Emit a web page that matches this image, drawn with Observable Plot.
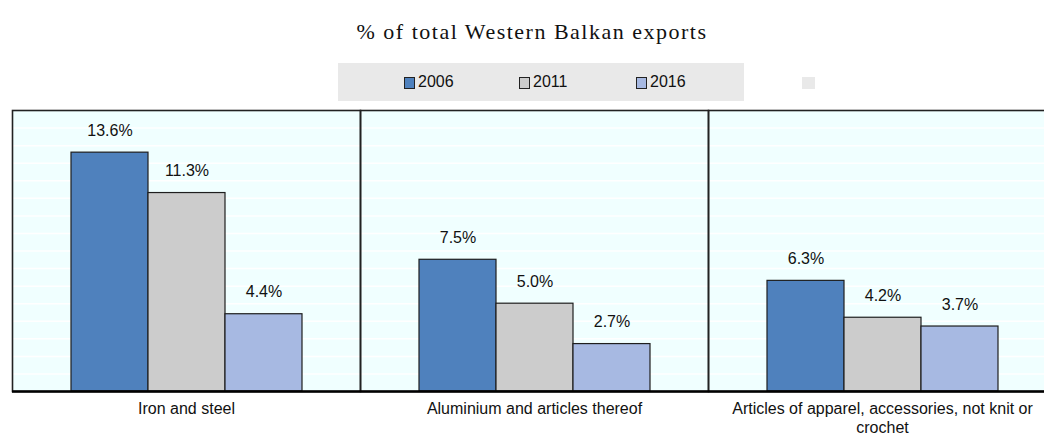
<!DOCTYPE html>
<html>
<head>
<meta charset="utf-8">
<script src="https://cdn.jsdelivr.net/npm/d3@7"></script>
<script src="https://cdn.jsdelivr.net/npm/@observablehq/plot@0.6"></script>
<style>
  html, body { margin: 0; padding: 0; background: white; overflow: hidden; }
  #wrap { position: relative; width: 1044px; height: 437px; font-family: "Liberation Sans", Arial, sans-serif; }
  #title { position: absolute; left: 0; top: 21px; width: 1064px; text-align: center;
           font-family: "Liberation Serif", "Times New Roman", serif; font-size: 22px; line-height: 22px;
           letter-spacing: 1.5px; color: #111; }
  #legend { position: absolute; left: 338px; top: 63px; width: 406px; height: 38px; background: #e9e9e9; }
  .sw { position: absolute; width: 9px; height: 10px; border: 1px solid #222; top: 14px; }
  .lt { position: absolute; top: 9px; font-size: 16px; line-height: 20px; color: #111; }
  #blank { position: absolute; left: 802px; top: 77px; width: 13px; height: 12px; background: #e9e9e9; }
  #chart { position: absolute; left: 0; top: 100px; }
</style>
</head>
<body>
<div id="wrap">
  <div id="title">% of total Western Balkan exports</div>
  <div id="legend"></div>
  <div id="blank"></div>
  <div id="chart"></div>
</div>
<script>
const categories = ["Iron and steel", "Aluminium and articles thereof", "Articles of apparel, accessories, not knit or crochet"];
const years = ["2006", "2011", "2016"];
const share2006 = [13.6, 7.5, 6.3];
const share2011 = [11.3, 5.0, 4.2];
const share2016 = [4.4, 2.7, 3.7];
const yearColors = ["#4f81bd", "#cccccc", "#a7b9e2"];
const gridLines = [1, 2, 3, 4, 5, 6, 7, 8, 9, 10, 11, 12, 13, 14, 15];

const series = [share2006, share2011, share2016];
const data = [];
categories.forEach((c, i) => {
  years.forEach((y, j) => data.push({category: c, year: y, value: series[j][i]}));
});

// Legend
const legend = document.getElementById("legend");
const swatchX = [66, 181, 298];
years.forEach((y, j) => {
  const sw = document.createElement("div");
  sw.className = "sw";
  sw.style.left = swatchX[j] + "px";
  sw.style.background = yearColors[j];
  legend.appendChild(sw);
  const t = document.createElement("div");
  t.className = "lt";
  t.style.left = (swatchX[j] + 14) + "px";
  t.textContent = y;
  legend.appendChild(t);
});

const chart = Plot.plot({
  width: 1044,
  height: 337,
  marginTop: 10,
  marginLeft: 11,
  marginRight: -13,
  marginBottom: 46,
  style: {fontFamily: "'Liberation Sans', Arial, sans-serif", fontSize: "16px", background: "transparent", color: "#111"},
  fx: {domain: categories, padding: 0, label: null, axis: null},
  x: {domain: years, paddingInner: 0, paddingOuter: 0.75, axis: null},
  y: {domain: [0, 16], axis: null},
  color: {domain: years, range: yearColors},
  marks: [
    Plot.frame({fill: "#f0ffff", stroke: "none"}),
    Plot.ruleY(gridLines, {stroke: "white", strokeWidth: 1.5}),
    Plot.barY(data, {fx: "category", x: "year", y: "value", fill: "year", stroke: "#1e1e1e", strokeWidth: 1.2}),
    Plot.text(data, {fx: "category", x: "year", y: "value", text: d => d.value.toFixed(1) + "%", dy: -22, fontSize: 16, fill: "#111"}),
    Plot.frame({stroke: "#222", strokeWidth: 1.6, fill: "none"}),
    Plot.ruleY([0], {stroke: "#000", strokeWidth: 2.5}),
    Plot.axisFx({anchor: "bottom", label: null, tickSize: 0, tickPadding: 9, fontSize: 16, lineHeight: 1.2,
      tickFormat: d => d.replace(" not knit or crochet", " not knit or\ncrochet")})
  ]
});
document.getElementById("chart").appendChild(chart);
</script>
</body>
</html>
